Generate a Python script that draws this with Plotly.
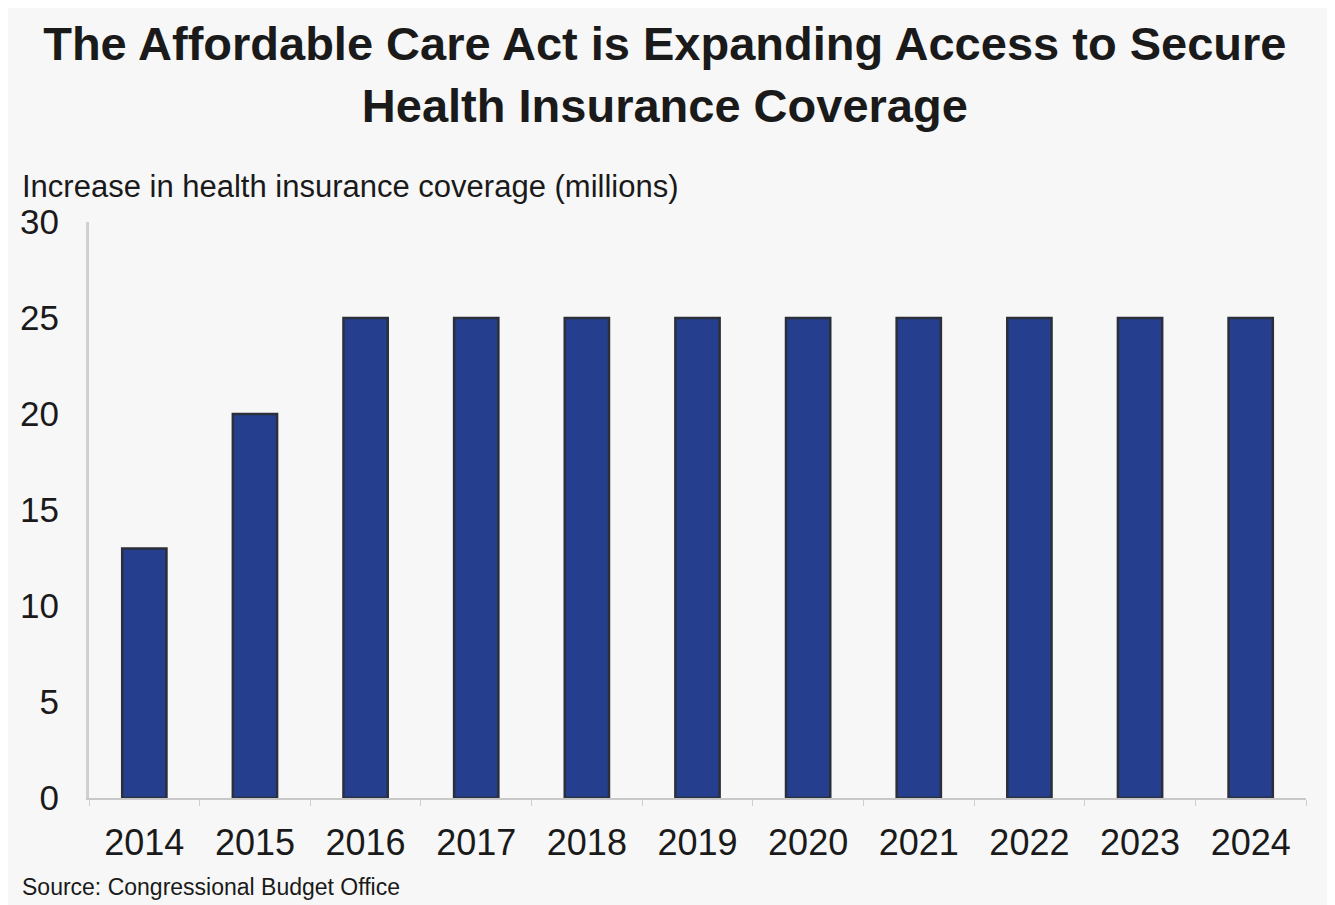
import plotly.graph_objects as go

years = ["2014", "2015", "2016", "2017", "2018", "2019", "2020", "2021", "2022", "2023", "2024"]
coverage = [13, 20, 25, 25, 25, 25, 25, 25, 25, 25, 25]
y_ticks = [0, 5, 10, 15, 20, 25, 30]

title_text = "The Affordable Care Act is Expanding Access to Secure<br>Health Insurance Coverage"
y_label = "Increase in health insurance coverage (millions)"
source = "Source: Congressional Budget Office"

fig = go.Figure()
fig.add_trace(go.Bar(
    x=years, y=coverage,
    marker=dict(color="#253f8e", line=dict(color="#2a2f3a", width=2.5)),
))

fig.update_layout(
    width=1335, height=905,
    paper_bgcolor="#f7f7f7", plot_bgcolor="#f7f7f7",
    margin=dict(l=73, r=37, t=214, b=115),
    bargap=0.6,
    showlegend=False,
    font=dict(family="Liberation Sans, Arial, sans-serif", color="#1a1a1a"),
    title=dict(text="<b>" + title_text + "</b>", x=0.492, xanchor="center",
               xref="container", yref="container",
               y=0.942, yanchor="middle", font=dict(size=47, color="#1a1a1a")),
    xaxis=dict(showline=True, linecolor="#c8c8c8", linewidth=2, ticks="outside",
               tickson="boundaries", ticklen=6, tickcolor="#d0d0d0",
               tickfont=dict(size=36, color="#1a1a1a"), showgrid=False,
               ticklabelstandoff=12),
    yaxis=dict(range=[0, 30], tickvals=y_ticks, showline=True, linecolor="#d0d0d0",
               linewidth=3, showgrid=False, zeroline=False, ticks="",
               tickfont=dict(size=35, color="#1a1a1a"), ticklabelstandoff=20),
    annotations=[
        dict(text=y_label, xref="paper", yref="paper", x=-0.0565, y=1.061,
             xanchor="left", yanchor="middle", showarrow=False,
             font=dict(size=31, color="#1a1a1a")),
        dict(text=source, xref="paper", yref="paper", x=-0.0565, y=-0.1545,
             xanchor="left", yanchor="middle", showarrow=False,
             font=dict(size=23, color="#1a1a1a")),
    ],
)

fig.write_html("out.html")
